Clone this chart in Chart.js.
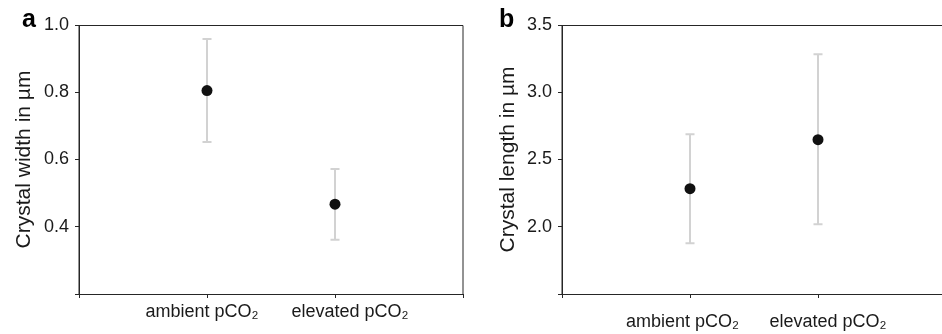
<!DOCTYPE html>
<html>
<head>
<meta charset="utf-8">
<script src="https://cdn.jsdelivr.net/npm/chart.js@4/dist/chart.umd.min.js"></script>
<style>
  html, body { margin: 0; padding: 0; background: #fff; overflow: hidden; }
  #wrapA { position: absolute; left: 0; top: 0; width: 470px; height: 334px; }
  #wrapB { position: absolute; left: 470px; top: 0; width: 489px; height: 334px; }
  canvas { display: block; }
</style>
</head>
<body>
<div id="wrapA"><canvas id="chartA" width="470" height="334" style="width:470px;height:334px"></canvas></div>
<div id="wrapB"><canvas id="chartB" width="489" height="334" style="width:489px;height:334px"></canvas></div>
<script>
// ---- data ----
const categories = ['ambient pCO\u2082', 'elevated pCO\u2082'];
const widthMean  = [0.805, 0.467];
const widthUpper = [0.958, 0.572];
const widthLower = [0.652, 0.361];
const lengthMean  = [2.283, 2.647];
const lengthUpper = [2.687, 3.282];
const lengthLower = [1.877, 2.018];
const widthTicks  = [0.2, 0.4, 0.6, 0.8, 1.0];
const lengthTicks = [1.5, 2.0, 2.5, 3.0, 3.5];
const panelLetters = ['a', 'b'];
const yTitles = ['Crystal width in \u00b5m', 'Crystal length in \u00b5m'];

const FONT = "'Liberation Sans', Arial, Helvetica, sans-serif";
const INK = '#1a1a1a';
const AXIS = '#262626';
const ERR = '#d2d2d2';

const errorBarPlugin = {
  id: 'errorBars',
  beforeDatasetsDraw(chart, args, opts) {
    const ctx = chart.ctx, xs = chart.scales.x, ys = chart.scales.y;
    ctx.save();
    ctx.strokeStyle = ERR;
    ctx.lineWidth = 2;
    opts.lower.forEach((lo, i) => {
      const x = xs.getPixelForValue(i + 1);
      const yl = ys.getPixelForValue(lo), yh = ys.getPixelForValue(opts.upper[i]);
      ctx.beginPath();
      ctx.moveTo(x, yl); ctx.lineTo(x, yh);
      ctx.moveTo(x - 4.5, yl); ctx.lineTo(x + 4.5, yl);
      ctx.moveTo(x - 4.5, yh); ctx.lineTo(x + 4.5, yh);
      ctx.stroke();
    });
    ctx.restore();
  }
};

const framePlugin = {
  id: 'frame',
  afterDraw(chart, args, opts) {
    const ctx = chart.ctx, a = chart.chartArea;
    ctx.save();
    ctx.strokeStyle = AXIS;
    ctx.lineWidth = 1;
    ctx.beginPath();
    ctx.moveTo(a.left, a.bottom + 0.5);
    ctx.lineTo(a.left, a.top + 0.5);
    ctx.lineTo(a.right, a.top + 0.5);
    ctx.lineTo(a.right, a.bottom + 0.5);
    ctx.stroke();
    ctx.fillStyle = '#000';
    ctx.font = 'bold 25px ' + FONT;
    ctx.textBaseline = 'alphabetic';
    ctx.textAlign = 'left';
    ctx.fillText(opts.letter, opts.letterX, 27);
    ctx.restore();
  }
};

function makeChart(id, means, lower, upper, ticks, letter, letterX, yTitle, yWidth, padRight, titlePad, xPad, labelPad) {
  const points = means.map((v, i) => ({ x: i + 1, y: v }));
  return new Chart(document.getElementById(id), {
    type: 'scatter',
    data: {
      datasets: [{
        data: points,
        pointRadius: 5.5,
        pointHoverRadius: 5.5,
        pointBackgroundColor: '#111',
        pointBorderColor: '#111',
        pointBorderWidth: 0,
        showLine: false
      }]
    },
    options: {
      responsive: false,
      devicePixelRatio: 1,
      animation: false,
      events: [],
      layout: { padding: { left: 0, right: padRight, top: 25, bottom: 0 } },
      plugins: {
        legend: { display: false },
        tooltip: { enabled: false },
        errorBars: { lower: lower, upper: upper },
        frame: { letter: letter, letterX: letterX }
      },
      scales: {
        x: {
          type: 'linear',
          min: 0,
          max: categories.length + 1,
          afterBuildTicks: s => { s.ticks = [0, 1, 2, 3].map(v => ({ value: v })); },
          afterFit: s => { s.height = 40; },
          grid: { display: true, drawOnChartArea: false, drawTicks: true, tickLength: 4, color: AXIS, lineWidth: 1 },
          border: { display: true, color: AXIS, width: 1 },
          ticks: {
            autoSkip: false,
            maxRotation: 0,
            padding: xPad,
            color: INK,
            font: { family: FONT, size: 18 },
            callback: v => {
              if (v >= 1 && v <= categories.length) {
                return labelPad[v - 1][0] + categories[v - 1] + labelPad[v - 1][1];
              }
              return '';
            }
          }
        },
        y: {
          type: 'linear',
          min: ticks[0],
          max: ticks[ticks.length - 1],
          afterBuildTicks: s => { s.ticks = ticks.map(v => ({ value: v })); },
          afterFit: s => { s.width = yWidth; },
          grid: { display: true, drawOnChartArea: false, drawTicks: true, tickLength: 4, color: AXIS, lineWidth: 1 },
          border: { display: true, color: AXIS, width: 1 },
          ticks: {
            padding: 6,
            color: INK,
            font: { family: FONT, size: 18 },
            callback: v => (v === ticks[0] ? '' : v.toFixed(1))
          },
          title: {
            display: true,
            text: yTitle,
            color: INK,
            font: { family: FONT, size: 21 },
            padding: { top: titlePad, bottom: 0 }
          }
        }
      }
    },
    plugins: [errorBarPlugin, framePlugin]
  });
}

makeChart('chartA', widthMean, widthLower, widthUpper, widthTicks, panelLetters[0], 22, yTitles[0], 79, 7, 12, 3, [['', '  '], ['      ', '']]);
makeChart('chartB', lengthMean, lengthLower, lengthUpper, lengthTicks, panelLetters[1], 29, yTitles[1], 92, 0, 26, 13, [['', '   '], ['    ', '']]);
</script>
</body>
</html>
